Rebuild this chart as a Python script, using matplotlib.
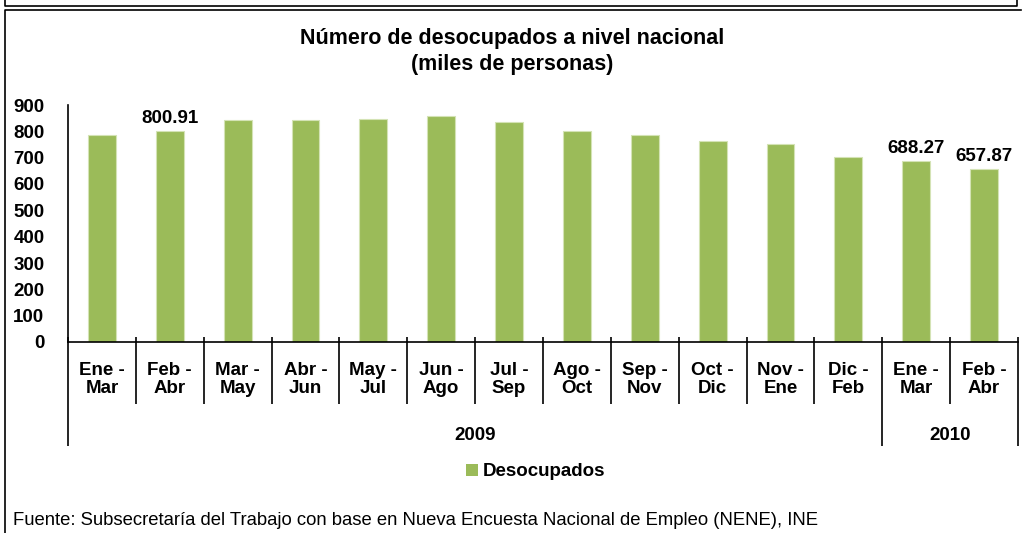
import numpy as np
import matplotlib
matplotlib.use("Agg")
import matplotlib.pyplot as plt
from matplotlib.lines import Line2D
from matplotlib.patches import Patch

plt.rcParams['font.family'] = ['Liberation Sans', 'DejaVu Sans']

# data
periods = ["Ene -\nMar", "Feb -\nAbr", "Mar -\nMay", "Abr -\nJun", "May -\nJul", "Jun -\nAgo",
           "Jul -\nSep", "Ago -\nOct", "Sep -\nNov", "Oct -\nDic", "Nov -\nEne", "Dic -\nFeb",
           "Ene -\nMar", "Feb -\nAbr"]
desocupados = [786, 800.91, 843, 843, 847, 857, 835, 800, 786, 764, 752, 702, 688.27, 657.87]
years = ["2009", "2010"]
year_counts = [12, 2]
labelled = {1: "800.91", 12: "688.27", 13: "657.87"}

W, H = 1024, 533
fig = plt.figure(figsize=(W / 100, H / 100), dpi=100)

def fx(px):
    return px / W

def fy(py):
    return 1 - py / H

# outer frames
fig.add_artist(Line2D([fx(5), fx(5), fx(1017), fx(1017)], [fy(-5), fy(6), fy(6), fy(-5)],
                      transform=fig.transFigure, color='black', lw=1.2))
fig.add_artist(Line2D([fx(5), fx(5), fx(1021)], [fy(540), fy(9.5), fy(9.5)],
                      transform=fig.transFigure, color='black', lw=1.2))

ax = fig.add_axes([fx(68), fy(342), fx(1018) - fx(68), fy(105) - fy(342)])

x = np.arange(len(periods))
bars = ax.bar(x, desocupados, width=0.41, color='#9BBB59', edgecolor='#d4e3b5', linewidth=0.8,
              zorder=2)

for i, txt in labelled.items():
    ax.annotate(txt, (x[i], desocupados[i]), xytext=(0, 3), textcoords='offset points',
                ha='center', va='bottom', fontsize=13.5, fontweight='bold')

ax.set_xlim(-0.5, len(periods) - 0.5)
ax.set_ylim(0, 900)
ax.set_yticks(np.arange(0, 901, 100))
ax.tick_params(axis='y', length=0, pad=17, labelsize=13.5)
for lab in ax.get_yticklabels():
    lab.set_fontweight('bold')
ax.set_xticks([])
for s in ['top', 'right']:
    ax.spines[s].set_visible(False)
ax.spines['left'].set_linewidth(1.2)
ax.spines['bottom'].set_linewidth(1.2)

# category labels and separators
trans = ax.get_xaxis_transform()
ax_h_px = 342 - 105

def ay(py):
    return (342 - py) / ax_h_px

for i, lab in enumerate(periods):
    ax.text(x[i], ay(362), lab, transform=trans, ha='center', va='top', fontsize=13.5,
            fontweight='bold', linespacing=1.1, multialignment='center')

group_edges = np.cumsum([0] + year_counts) - 0.5
for b in np.arange(len(periods) + 1) - 0.5:
    bottom = 446 if b in group_edges else 404
    ax.plot([b, b], [ay(337), ay(bottom)], transform=trans, color='black', lw=1.2,
            clip_on=False, solid_capstyle='butt')

for yr, lo, hi in zip(years, group_edges[:-1], group_edges[1:]):
    ax.text((lo + hi) / 2, ay(440), yr, transform=trans, ha='center', va='baseline',
            fontsize=13.5, fontweight='bold')

# title
fig.text(0.5, fy(44), "Número de desocupados a nivel nacional", ha='center', va='baseline',
         fontsize=15.5, fontweight='bold')
fig.text(0.5, fy(70), "(miles de personas)", ha='center', va='baseline',
         fontsize=15.5, fontweight='bold')

# legend
fig.legend(handles=[Patch(facecolor='#9BBB59', label='Desocupados')], loc='center',
           bbox_to_anchor=(fx(536), fy(472)), frameon=False, handlelength=0.6, handleheight=0.6,
           handletextpad=0.3, prop={'weight': 'bold', 'size': 13.5})

fig.text(fx(13), fy(525), "Fuente: Subsecretaría del Trabajo con base en Nueva Encuesta Nacional de Empleo (NENE), INE",
         ha='left', va='baseline', fontsize=13.3)

fig.savefig('out.png', dpi=100)
